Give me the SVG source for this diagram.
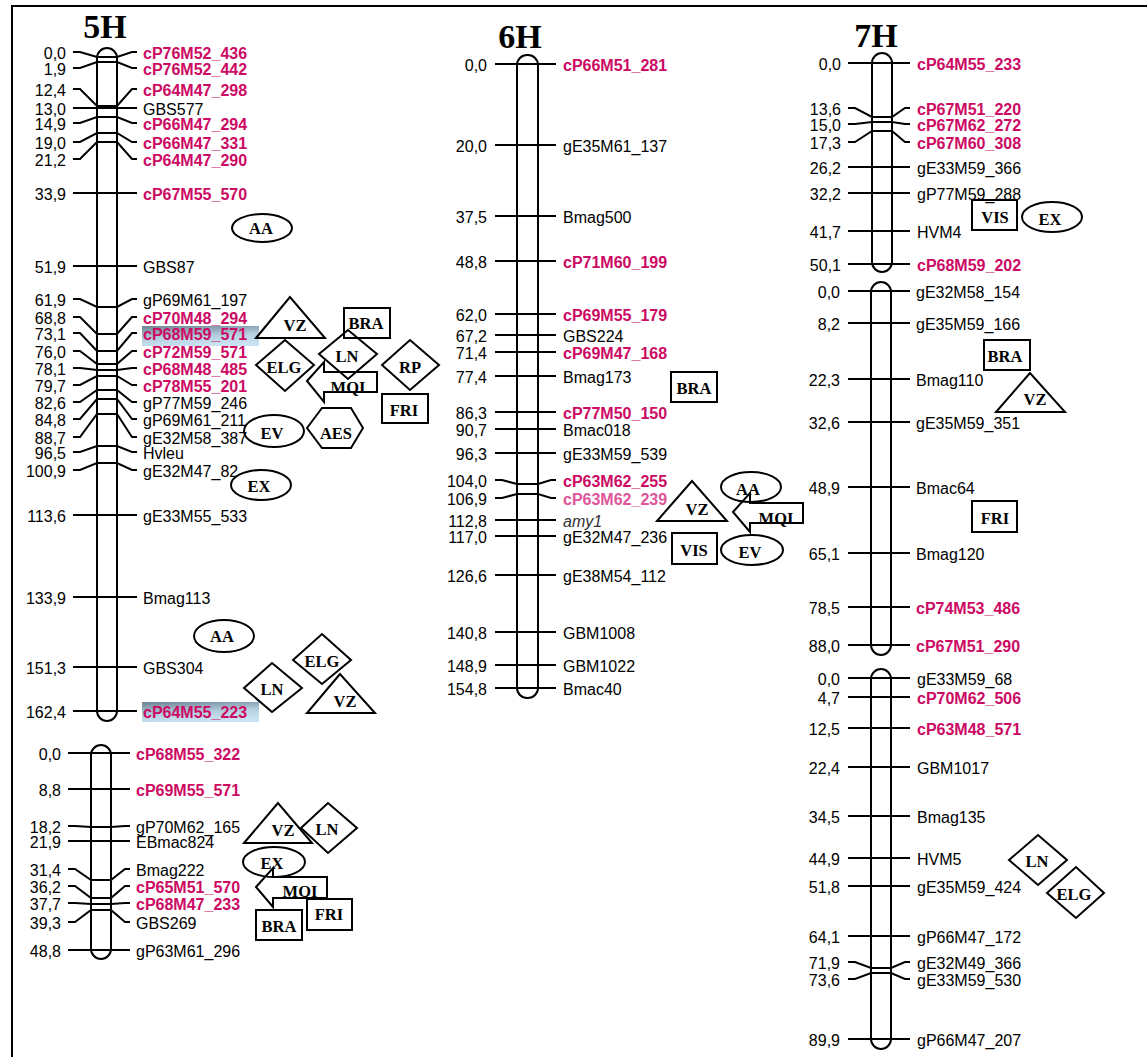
<svg xmlns="http://www.w3.org/2000/svg" width="1147" height="1057" viewBox="0 0 1147 1057">
<defs>
<linearGradient id="hl" x1="0" y1="0" x2="0.3" y2="1">
<stop offset="0" stop-color="#6d8292"/>
<stop offset="0.6" stop-color="#b4cfe0"/>
<stop offset="1" stop-color="#c9e2f2"/>
</linearGradient>
<style>
.chr{fill:none;stroke:#000;stroke-width:2}
.tk{fill:none;stroke:#000;stroke-width:2}
.num{font-family:"Liberation Sans",Arial,sans-serif;font-size:16px;text-anchor:end;fill:#000}
.nm{font-family:"Liberation Sans",Arial,sans-serif;font-size:16px;fill:#000}
.r{fill:#cc0a64;font-weight:bold}
.lr{fill:#e0559a;font-weight:bold}
.it{font-style:italic;fill:#333}
.ttl{font-family:"Liberation Serif","Times New Roman",serif;font-size:34px;font-weight:bold;text-anchor:middle;fill:#000}
.sh{fill:none;stroke:#000;stroke-width:2}
.st{font-family:"Liberation Serif","Times New Roman",serif;font-size:16.5px;font-weight:bold;text-anchor:middle;fill:#000}
</style>
</defs>
<rect width="1147" height="1057" fill="#fff"/>
<path d="M12,1057V6H1147" fill="none" stroke="#000" stroke-width="2"/>

<g id="chr-5H-a">
<text class="ttl" x="105" y="38">5H</text>
<rect x="142" y="326" width="117" height="20" fill="url(#hl)"/>
<rect x="142" y="702" width="117" height="20" fill="url(#hl)"/>
<rect class="chr" x="97" y="48" width="20" height="673" rx="10"/>
<path class="tk" d="M73,52H80L97,57H117L132,52H137 M73,68H80L97,62H117L132,68H137 M73,89H80L97,106H117L132,89H137 M73,108H137 M73,123H80L97,117H117L132,123H137 M73,142H80L97,133H117L132,142H137 M73,159H80L97,142H117L132,159H137 M73,193H137 M73,266H137 M73,299H80L97,307H117L132,299H137 M73,317H80L97,334H117L132,317H137 M73,333H80L97,351H117L132,333H137 M73,351H80L97,364H117L132,351H137 M73,368H80L97,370H117L132,368H137 M73,385H80L97,376H117L132,385H137 M73,402H80L97,390H117L132,402H137 M73,419H80L97,399H117L132,419H137 M73,437H80L97,414H117L132,437H137 M73,452H80L97,446H117L132,452H137 M73,470H80L97,463H117L132,470H137 M73,515H137 M73,597H137 M73,667H137 M73,711H137"/>
<text class="num" x="66" y="59">0,0</text><text class="nm r" x="143" y="59">cP76M52_436</text>
<text class="num" x="66" y="75">1,9</text><text class="nm r" x="143" y="75">cP76M52_442</text>
<text class="num" x="66" y="96">12,4</text><text class="nm r" x="143" y="96">cP64M47_298</text>
<text class="num" x="66" y="115">13,0</text><text class="nm" x="143" y="115">GBS577</text>
<text class="num" x="66" y="130">14,9</text><text class="nm r" x="143" y="130">cP66M47_294</text>
<text class="num" x="66" y="149">19,0</text><text class="nm r" x="143" y="149">cP66M47_331</text>
<text class="num" x="66" y="166">21,2</text><text class="nm r" x="143" y="166">cP64M47_290</text>
<text class="num" x="66" y="200">33,9</text><text class="nm r" x="143" y="200">cP67M55_570</text>
<text class="num" x="66" y="273">51,9</text><text class="nm" x="143" y="273">GBS87</text>
<text class="num" x="66" y="306">61,9</text><text class="nm" x="143" y="306">gP69M61_197</text>
<text class="num" x="66" y="324">68,8</text><text class="nm r" x="143" y="324">cP70M48_294</text>
<text class="num" x="66" y="340">73,1</text><text class="nm r" x="143" y="340">cP68M59_571</text>
<text class="num" x="66" y="358">76,0</text><text class="nm r" x="143" y="358">cP72M59_571</text>
<text class="num" x="66" y="375">78,1</text><text class="nm r" x="143" y="375">cP68M48_485</text>
<text class="num" x="66" y="392">79,7</text><text class="nm r" x="143" y="392">cP78M55_201</text>
<text class="num" x="66" y="409">82,6</text><text class="nm" x="143" y="409">gP77M59_246</text>
<text class="num" x="66" y="426">84,8</text><text class="nm" x="143" y="426">gP69M61_211</text>
<text class="num" x="66" y="444">88,7</text><text class="nm" x="143" y="444">gE32M58_387</text>
<text class="num" x="66" y="459">96,5</text><text class="nm" x="143" y="459">Hvleu</text>
<text class="num" x="66" y="477">100,9</text><text class="nm" x="143" y="477">gE32M47_82</text>
<text class="num" x="66" y="522">113,6</text><text class="nm" x="143" y="522">gE33M55_533</text>
<text class="num" x="66" y="604">133,9</text><text class="nm" x="143" y="604">Bmag113</text>
<text class="num" x="66" y="674">151,3</text><text class="nm" x="143" y="674">GBS304</text>
<text class="num" x="66" y="718">162,4</text><text class="nm r" x="143" y="718">cP64M55_223</text>
</g>

<g id="chr-5H-b">
<rect class="chr" x="91" y="745" width="20" height="214" rx="10"/>
<path class="tk" d="M68,753H130 M68,789H130 M68,826H75L91,827H111L125,826H130 M68,841H130 M68,869H75L91,880H111L125,869H130 M68,886H75L91,898H111L125,886H130 M68,903H75L91,904H111L125,903H130 M68,922H75L91,910H111L125,922H130 M68,950H130"/>
<text class="num" x="61" y="760">0,0</text><text class="nm r" x="136" y="760">cP68M55_322</text>
<text class="num" x="61" y="796">8,8</text><text class="nm r" x="136" y="796">cP69M55_571</text>
<text class="num" x="61" y="833">18,2</text><text class="nm" x="136" y="833">gP70M62_165</text>
<text class="num" x="61" y="848">21,9</text><text class="nm" x="136" y="848">EBmac824</text>
<text class="num" x="61" y="876">31,4</text><text class="nm" x="136" y="876">Bmag222</text>
<text class="num" x="61" y="893">36,2</text><text class="nm r" x="136" y="893">cP65M51_570</text>
<text class="num" x="61" y="910">37,7</text><text class="nm r" x="136" y="910">cP68M47_233</text>
<text class="num" x="61" y="929">39,3</text><text class="nm" x="136" y="929">GBS269</text>
<text class="num" x="61" y="957">48,8</text><text class="nm" x="136" y="957">gP63M61_296</text>
</g>

<g id="chr-6H">
<text class="ttl" x="520" y="48">6H</text>
<rect class="chr" x="517" y="55" width="21" height="643" rx="10"/>
<path class="tk" d="M495,64H556 M495,145H556 M495,216H556 M495,261H556 M495,314H556 M495,335H556 M495,352H556 M495,376H556 M495,412H556 M495,429H556 M495,453H556 M495,480H502L517,484H538L551,480H556 M495,498H502L517,494H538L551,498H556 M495,520H556 M495,536H556 M495,575H556 M495,632H556 M495,665H556 M495,688H556"/>
<text class="num" x="487" y="71">0,0</text><text class="nm r" x="563" y="71">cP66M51_281</text>
<text class="num" x="487" y="152">20,0</text><text class="nm" x="563" y="152">gE35M61_137</text>
<text class="num" x="487" y="223">37,5</text><text class="nm" x="563" y="223">Bmag500</text>
<text class="num" x="487" y="268">48,8</text><text class="nm r" x="563" y="268">cP71M60_199</text>
<text class="num" x="487" y="321">62,0</text><text class="nm r" x="563" y="321">cP69M55_179</text>
<text class="num" x="487" y="342">67,2</text><text class="nm" x="563" y="342">GBS224</text>
<text class="num" x="487" y="359">71,4</text><text class="nm r" x="563" y="359">cP69M47_168</text>
<text class="num" x="487" y="383">77,4</text><text class="nm" x="563" y="383">Bmag173</text>
<text class="num" x="487" y="419">86,3</text><text class="nm r" x="563" y="419">cP77M50_150</text>
<text class="num" x="487" y="436">90,7</text><text class="nm" x="563" y="436">Bmac018</text>
<text class="num" x="487" y="460">96,3</text><text class="nm" x="563" y="460">gE33M59_539</text>
<text class="num" x="487" y="487">104,0</text><text class="nm r" x="563" y="487">cP63M62_255</text>
<text class="num" x="487" y="505">106,9</text><text class="nm lr" x="563" y="505">cP63M62_239</text>
<text class="num" x="487" y="527">112,8</text><text class="nm it" x="563" y="527">amy1</text>
<text class="num" x="487" y="543">117,0</text><text class="nm" x="563" y="543">gE32M47_236</text>
<text class="num" x="487" y="582">126,6</text><text class="nm" x="563" y="582">gE38M54_112</text>
<text class="num" x="487" y="639">140,8</text><text class="nm" x="563" y="639">GBM1008</text>
<text class="num" x="487" y="672">148,9</text><text class="nm" x="563" y="672">GBM1022</text>
<text class="num" x="487" y="695">154,8</text><text class="nm" x="563" y="695">Bmac40</text>
</g>

<g id="chr-7H-a">
<text class="ttl" x="876" y="47">7H</text>
<rect class="chr" x="872" y="53" width="20" height="219" rx="10"/>
<path class="tk" d="M848,63H910 M848,108H855L872,117H892L905,108H910 M848,124H855L872,122H892L905,124H910 M848,142H855L872,131H892L905,142H910 M848,167H910 M848,193H910 M848,231H910 M848,264H910"/>
<text class="num" x="841" y="70">0,0</text><text class="nm r" x="917" y="70">cP64M55_233</text>
<text class="num" x="841" y="115">13,6</text><text class="nm r" x="917" y="115">cP67M51_220</text>
<text class="num" x="841" y="131">15,0</text><text class="nm r" x="917" y="131">cP67M62_272</text>
<text class="num" x="841" y="149">17,3</text><text class="nm r" x="917" y="149">cP67M60_308</text>
<text class="num" x="841" y="174">26,2</text><text class="nm" x="917" y="174">gE33M59_366</text>
<text class="num" x="841" y="200">32,2</text><text class="nm" x="917" y="200">gP77M59_288</text>
<text class="num" x="841" y="238">41,7</text><text class="nm" x="917" y="238">HVM4</text>
<text class="num" x="841" y="271">50,1</text><text class="nm r" x="917" y="271">cP68M59_202</text>
</g>

<g id="chr-7H-b">
<rect class="chr" x="871" y="282" width="20" height="373" rx="10"/>
<path class="tk" d="M848,291H910 M848,323H910 M848,379H910 M848,422H910 M848,487H910 M848,553H910 M848,607H910 M848,645H910"/>
<text class="num" x="840" y="298">0,0</text><text class="nm" x="916" y="298">gE32M58_154</text>
<text class="num" x="840" y="330">8,2</text><text class="nm" x="916" y="330">gE35M59_166</text>
<text class="num" x="840" y="386">22,3</text><text class="nm" x="916" y="386">Bmag110</text>
<text class="num" x="840" y="429">32,6</text><text class="nm" x="916" y="429">gE35M59_351</text>
<text class="num" x="840" y="494">48,9</text><text class="nm" x="916" y="494">Bmac64</text>
<text class="num" x="840" y="560">65,1</text><text class="nm" x="916" y="560">Bmag120</text>
<text class="num" x="840" y="614">78,5</text><text class="nm r" x="916" y="614">cP74M53_486</text>
<text class="num" x="840" y="652">88,0</text><text class="nm r" x="916" y="652">cP67M51_290</text>
</g>

<g id="chr-7H-c">
<rect class="chr" x="871" y="669" width="20" height="380" rx="10"/>
<path class="tk" d="M848,678H910 M848,697H910 M848,728H910 M848,767H910 M848,816H910 M848,858H910 M848,886H910 M848,936H910 M848,962H855L871,968H891L905,962H910 M848,979H855L871,973H891L905,979H910 M848,1039H910"/>
<text class="num" x="840" y="685">0,0</text><text class="nm" x="917" y="685">gE33M59_68</text>
<text class="num" x="840" y="704">4,7</text><text class="nm r" x="917" y="704">cP70M62_506</text>
<text class="num" x="840" y="735">12,5</text><text class="nm r" x="917" y="735">cP63M48_571</text>
<text class="num" x="840" y="774">22,4</text><text class="nm" x="917" y="774">GBM1017</text>
<text class="num" x="840" y="823">34,5</text><text class="nm" x="917" y="823">Bmag135</text>
<text class="num" x="840" y="865">44,9</text><text class="nm" x="917" y="865">HVM5</text>
<text class="num" x="840" y="893">51,8</text><text class="nm" x="917" y="893">gE35M59_424</text>
<text class="num" x="840" y="943">64,1</text><text class="nm" x="917" y="943">gP66M47_172</text>
<text class="num" x="840" y="969">71,9</text><text class="nm" x="917" y="969">gE32M49_366</text>
<text class="num" x="840" y="986">73,6</text><text class="nm" x="917" y="986">gE33M59_530</text>
<text class="num" x="840" y="1046">89,9</text><text class="nm" x="917" y="1046">gP66M47_207</text>
</g>

<g id="qtl-5H-AA-1"><ellipse class="sh" cx="262" cy="228" rx="30" ry="14"/><text class="st" x="261" y="234">AA</text></g>
<g id="qtl-5H-VZ-1"><polygon class="sh" points="290,297 256,338 325,338"/><text class="st" x="295" y="331">VZ</text></g>
<g id="qtl-5H-BRA-1"><rect class="sh" x="344" y="308" width="46" height="30"/><text class="st" x="366" y="329">BRA</text></g>
<g id="qtl-5H-ELG-1"><polygon class="sh" points="256,365 285,340 314,365 285,391"/><text class="st" x="284" y="373">ELG</text></g>
<g id="qtl-5H-LN-1"><polygon class="sh" points="319,354 348,330 377,354 348,379"/><text class="st" x="347" y="362">LN</text></g>
<g id="qtl-5H-RP-1"><polygon class="sh" points="382,365 410,340 439,365 410,390"/><text class="st" x="410" y="373">RP</text></g>
<g id="qtl-5H-MQI-1"><path class="sh" d="M307,381L324,362V372H377V392H324V402Z"/><text class="st" x="348" y="393">MQI</text></g>
<g id="qtl-5H-FRI-1"><rect class="sh" x="382" y="394" width="46" height="29"/><text class="st" x="404" y="416">FRI</text></g>
<g id="qtl-5H-EV-1"><ellipse class="sh" cx="274" cy="431" rx="30" ry="16"/><text class="st" x="272" y="439">EV</text></g>
<g id="qtl-5H-AES-1"><polygon class="sh" points="307,428 322,408 351,408 363,428 351,448 322,448"/><text class="st" x="336" y="439">AES</text></g>
<g id="qtl-5H-EX-1"><ellipse class="sh" cx="261" cy="485" rx="30" ry="15"/><text class="st" x="259" y="492">EX</text></g>

<g id="qtl-5H-AA-2"><ellipse class="sh" cx="224" cy="636" rx="30" ry="16"/><text class="st" x="222" y="642">AA</text></g>
<g id="qtl-5H-ELG-2"><polygon class="sh" points="293,660 322,634 351,660 322,684"/><text class="st" x="322" y="667">ELG</text></g>
<g id="qtl-5H-LN-2"><polygon class="sh" points="244,688 272,663 302,688 272,712"/><text class="st" x="272" y="695">LN</text></g>
<g id="qtl-5H-VZ-2"><polygon class="sh" points="340,674 307,713 375,713"/><text class="st" x="345" y="707">VZ</text></g>

<g id="qtl-5H-VZ-3"><polygon class="sh" points="278,803 244,843 312,843"/><text class="st" x="283" y="836">VZ</text></g>
<g id="qtl-5H-LN-3"><polygon class="sh" points="301,828 328,803 357,828 328,853"/><text class="st" x="327" y="835">LN</text></g>
<g id="qtl-5H-EX-3"><ellipse class="sh" cx="274" cy="862" rx="31" ry="15"/><text class="st" x="272" y="869">EX</text></g>
<g id="qtl-5H-MQI-3"><path class="sh" d="M256,887L273,868V877H327V898H273V907Z"/><text class="st" x="300" y="897">MQI</text></g>
<g id="qtl-5H-BRA-3"><rect class="sh" x="256" y="910" width="46" height="30"/><text class="st" x="279" y="932">BRA</text></g>
<g id="qtl-5H-FRI-3"><rect class="sh" x="307" y="899" width="45" height="31"/><text class="st" x="329" y="920">FRI</text></g>

<g id="qtl-6H-BRA"><rect class="sh" x="671" y="372" width="46" height="30"/><text class="st" x="694" y="394">BRA</text></g>
<g id="qtl-6H-VZ"><polygon class="sh" points="692,481 657,521 727,521"/><text class="st" x="697" y="515">VZ</text></g>
<g id="qtl-6H-AA"><ellipse class="sh" cx="751" cy="487" rx="30" ry="15"/><text class="st" x="748" y="495">AA</text></g>
<g id="qtl-6H-MQI"><path class="sh" d="M733,512L750,493V503H803V523H750V532Z"/><text class="st" x="776" y="524">MQI</text></g>
<g id="qtl-6H-VIS"><rect class="sh" x="672" y="533" width="45" height="31"/><text class="st" x="694" y="556">VIS</text></g>
<g id="qtl-6H-EV"><ellipse class="sh" cx="752" cy="550" rx="31" ry="15"/><text class="st" x="750" y="558">EV</text></g>

<g id="qtl-7H-VIS"><rect class="sh" x="972" y="200" width="45" height="30"/><text class="st" x="995" y="223">VIS</text></g>
<g id="qtl-7H-EX"><ellipse class="sh" cx="1052" cy="217" rx="30" ry="15"/><text class="st" x="1050" y="225">EX</text></g>
<g id="qtl-7H-BRA"><rect class="sh" x="984" y="340" width="46" height="30"/><text class="st" x="1005" y="362">BRA</text></g>
<g id="qtl-7H-VZ"><polygon class="sh" points="1030,373 996,412 1065,412"/><text class="st" x="1035" y="405">VZ</text></g>
<g id="qtl-7H-FRI"><rect class="sh" x="972" y="501" width="45" height="31"/><text class="st" x="995" y="524">FRI</text></g>
<g id="qtl-7H-LN"><polygon class="sh" points="1009,860 1038,835 1067,860 1038,885"/><text class="st" x="1037" y="867">LN</text></g>
<g id="qtl-7H-ELG"><polygon class="sh" points="1047,893 1076,867 1104,893 1076,918"/><text class="st" x="1074" y="900">ELG</text></g>

<g id="connectors"></g>
</svg>
